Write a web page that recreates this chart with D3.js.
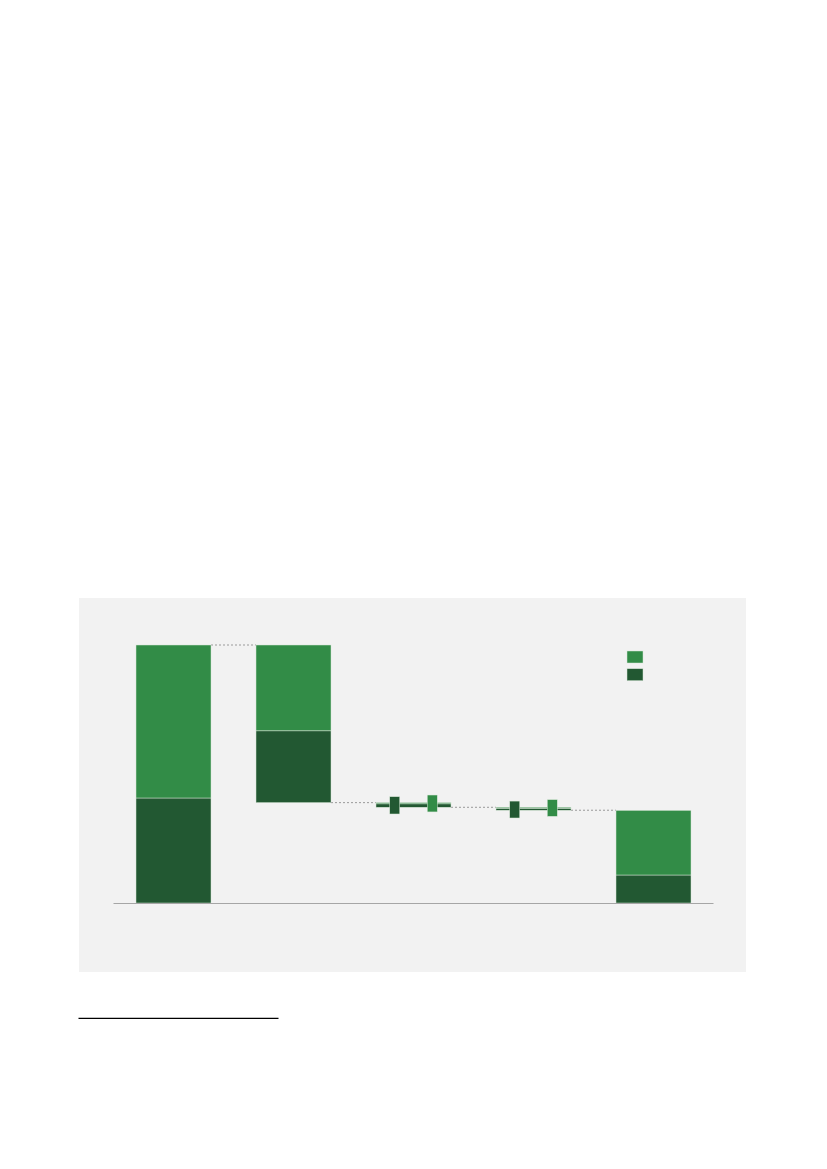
<!DOCTYPE html>
<html>
<head>
<meta charset="utf-8">
<script src="https://cdn.jsdelivr.net/npm/d3@7"></script>
<style>
  html, body { margin: 0; padding: 0; background: #ffffff; }
  svg { display: block; }
</style>
</head>
<body>
<svg id="chart" width="827" height="1169"></svg>
<script>
// ---- data (arbitrary units; the reference carries no labels) ----
const categories = ["c1", "c2", "c3", "c4", "c5"];
const barTypes   = ["total", "delta", "delta", "delta", "total"];
// component values (light = upper segment, dark = lower segment)
const lightValues = [59.3, -33.3, -0.5, -0.5, 25.05];
const darkValues  = [40.7, -27.8, -1.3, -0.65, 10.85];
// range markers for the small changes [low, high]
const darkMarkers  = [null, null, [34.5, 41.2], [32.95, 39.5], null];
const lightMarkers = [null, null, [35.3, 41.85], [33.6, 40.05], null];
const yMax = 100;

const colors = { light: "#328c47", dark: "#225832" };

// ---- layout ----
const svg = d3.select("#chart");
svg.append("rect").attr("x", 79).attr("y", 598).attr("width", 667).attr("height", 374)
   .attr("fill", "#f2f2f2");

const x = d3.scaleBand().domain(categories).range([113.5, 713.5])
  .paddingInner(0.375).paddingOuter(0.1875);
const y = d3.scaleLinear().domain([0, yMax]).range([903, 645]);

// compute waterfall segments
let running = 0;
const bars = categories.map((c, i) => {
  const lv = lightValues[i], dv = darkValues[i];
  let segs, end;
  if (barTypes[i] === "total") {
    segs = [
      { comp: "dark", y0: 0, y1: dv },
      { comp: "light", y0: dv, y1: dv + lv }
    ];
    end = dv + lv;
    running = end;
  } else {
    const start = running;
    const afterLight = start + lv;
    end = afterLight + dv;
    segs = [
      { comp: "light", y0: afterLight, y1: start },
      { comp: "dark", y0: end, y1: afterLight }
    ];
    running = end;
  }
  return { c, i, segs, end, top: d3.max(segs, s => Math.max(s.y0, s.y1)) };
});

// connectors
const g = svg.append("g");
bars.slice(0, -1).forEach((b, i) => {
  const level = barTypes[i] === "total" ? b.end : b.end;
  g.append("line")
    .attr("x1", x(b.c) + x.bandwidth())
    .attr("x2", x(categories[i + 1]))
    .attr("y1", y(level)).attr("y2", y(level))
    .attr("stroke", "#9a9a9a").attr("stroke-width", 1)
    .attr("stroke-dasharray", "2,2");
});

// bars
bars.forEach(b => {
  b.segs.forEach(s => {
    const top = y(Math.max(s.y0, s.y1)), bot = y(Math.min(s.y0, s.y1));
    g.append("rect")
      .attr("x", x(b.c)).attr("width", x.bandwidth())
      .attr("y", top).attr("height", Math.max(bot - top, 0.5))
      .attr("fill", colors[s.comp])
      .attr("stroke", "#d6e6d6").attr("stroke-width", 0.5);
  });
});

// markers
const mw = 10;
categories.forEach((c, i) => {
  if (darkMarkers[i]) {
    const [lo, hi] = darkMarkers[i];
    g.append("rect").attr("x", x(c) + x.bandwidth() * 0.25 - mw / 2).attr("width", mw)
      .attr("y", y(hi)).attr("height", y(lo) - y(hi))
      .attr("fill", colors.dark).attr("stroke", "#d6e6d6").attr("stroke-width", 0.5);
  }
  if (lightMarkers[i]) {
    const [lo, hi] = lightMarkers[i];
    g.append("rect").attr("x", x(c) + x.bandwidth() * 0.75 - mw / 2).attr("width", mw)
      .attr("y", y(hi)).attr("height", y(lo) - y(hi))
      .attr("fill", colors.light).attr("stroke", "#d6e6d6").attr("stroke-width", 0.5);
  }
});

// baseline
svg.append("line").attr("x1", 113.5).attr("x2", 713.5)
  .attr("y1", y(0) + 0.5).attr("y2", y(0) + 0.5)
  .attr("stroke", "#a6a6a6").attr("stroke-width", 1);

// legend
const legendItems = ["light", "dark"];
svg.append("g").selectAll("rect").data(legendItems).join("rect")
  .attr("x", 627).attr("y", (d, i) => 651 + i * 17.7)
  .attr("width", 16).attr("height", 12)
  .attr("fill", d => colors[d]).attr("stroke", "#d6e6d6").attr("stroke-width", 0.5);

// footnote rule
svg.append("line").attr("x1", 78.5).attr("x2", 278.5)
  .attr("y1", 1018.3).attr("y2", 1018.3)
  .attr("stroke", "#000").attr("stroke-width", 1.3);
</script>
</body>
</html>
